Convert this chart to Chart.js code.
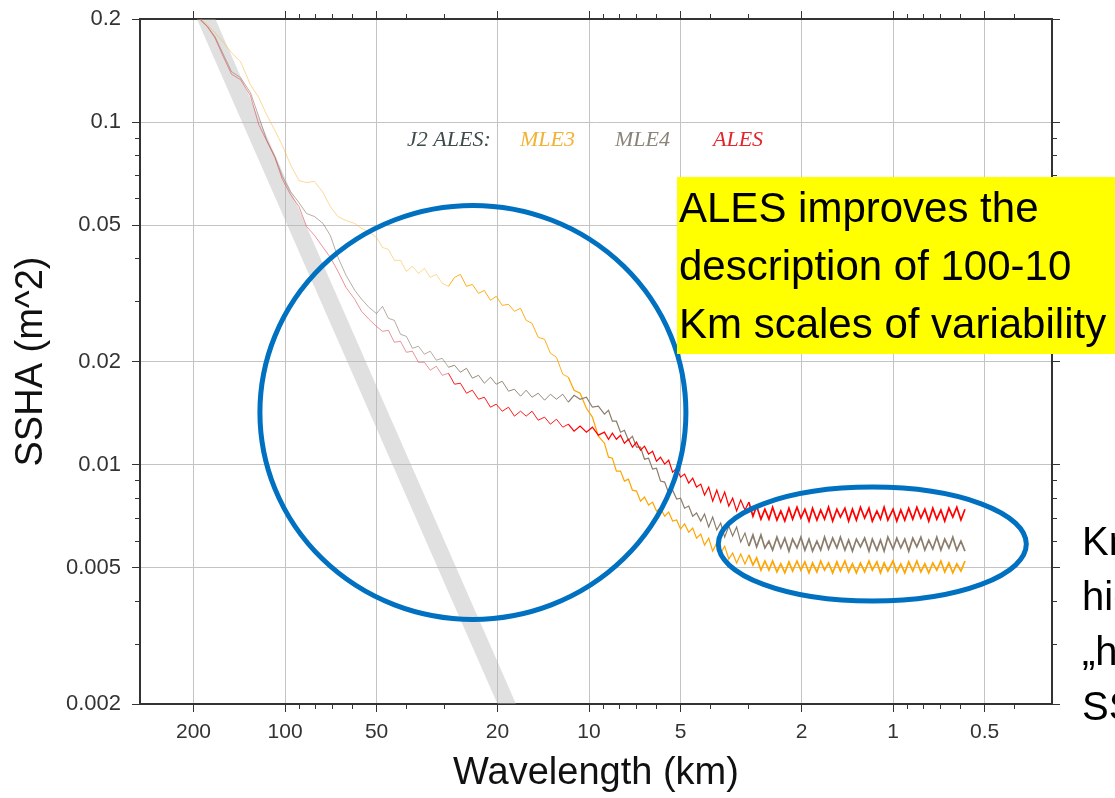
<!DOCTYPE html>
<html>
<head>
<meta charset="utf-8">
<title>J2 ALES SSHA spectra</title>
<script src="https://cdn.jsdelivr.net/npm/chart.js@4.4.1/dist/chart.umd.min.js"></script>
<style>
  html, body { margin: 0; padding: 0; background: #fff; overflow: hidden; }
  #wrap { width: 1115px; height: 798px; }
</style>
</head>
<body>
<div id="wrap"><canvas id="spectrum" width="1115" height="798"></canvas></div>
<script>
// wavelength (km), shared by the three spectra
const wavelength = [
  200, 190, 180, 170, 160, 150, 140, 130, 122, 115, 108, 102, 96, 90, 85, 80, 75, 71, 67, 63, 59, 56, 53, 50,
  47.8, 45.7, 43.7, 41.7, 39.9, 38.1, 36.4, 34.8, 33.3, 31.8, 30.4, 29.0, 27.7, 26.5, 25.3, 24.2, 23.1, 22.1, 21.1,
  20.2, 19.3, 18.4, 17.6, 16.8, 16.1, 15.4, 14.7, 14.0, 13.4, 12.8, 12.2, 11.7, 11.2, 10.7, 10.2, 9.75, 9.32, 8.90,
  8.63, 8.38, 8.13, 7.88, 7.65, 7.42, 7.20, 6.98, 6.77, 6.57, 6.37, 6.18, 6.00, 5.82, 5.64, 5.47, 5.31, 5.15, 5.00, 4.85,
  4.70, 4.56, 4.43, 4.29, 4.17, 4.04, 3.92, 3.80, 3.69, 3.58, 3.47, 3.37, 3.27, 3.17, 3.07, 2.98, 2.89, 2.81, 2.72, 2.64,
  2.56, 2.49, 2.41, 2.34, 2.27, 2.20, 2.14, 2.07, 2.01, 1.95, 1.89, 1.84, 1.78, 1.73, 1.68, 1.63, 1.58, 1.53, 1.49, 1.44,
  1.40, 1.36, 1.32, 1.28, 1.24, 1.20, 1.17, 1.13, 1.10, 1.07, 1.04, 1.00, 0.972, 0.943, 0.915, 0.888, 0.861, 0.835, 0.810, 0.786,
  0.763, 0.740, 0.718, 0.696, 0.676, 0.655, 0.636, 0.617, 0.598, 0.580
];

// SSHA spectra (m^2)
const mle3 = [
  0.216, 0.200, 0.1924, 0.1823, 0.1717, 0.1594, 0.150, 0.1286, 0.1179, 0.1052, 0.0945, 0.0854, 0.0752, 0.0675, 0.0666, 0.0671,
  0.0623, 0.0567, 0.0530, 0.0516, 0.0506, 0.0489, 0.0479, 0.0460,
  0.04305, 0.04248, 0.03948, 0.03948, 0.03665, 0.03791, 0.03616, 0.03740, 0.03520, 0.03592,
  0.03381, 0.03314, 0.03520, 0.03592, 0.03314, 0.03359, 0.03162, 0.03226, 0.03018, 0.03100,
  0.02917, 0.02937, 0.02803, 0.02860, 0.02638, 0.02585, 0.02353, 0.02322, 0.02114, 0.02058,
  0.01835, 0.01800, 0.01649, 0.01616, 0.01461, 0.01376, 0.01211, 0.01155,
  0.01051, 0.01044, 0.00957, 0.00957, 0.00895, 0.00907, 0.00842, 0.00837, 0.00782, 0.00804,
  0.00762, 0.00777, 0.00732, 0.00746, 0.00707, 0.00727, 0.00684, 0.00689, 0.00648, 0.00671,
  0.00635, 0.00653, 0.00610, 0.00627, 0.00582, 0.00610, 0.00559, 0.00590, 0.00552, 0.00578,
  0.00530, 0.00552, 0.00516, 0.00548, 0.00513, 0.00545, 0.00509, 0.00534, 0.00492, 0.00523,
  0.00492, 0.00523, 0.00486, 0.00513, 0.00483, 0.00520, 0.00489, 0.00523, 0.00492, 0.00520,
  0.00483, 0.00516, 0.00486, 0.00523, 0.00492, 0.00516, 0.00483, 0.00520, 0.00489, 0.00523,
  0.00486, 0.00513, 0.00483, 0.00516, 0.00486, 0.00523, 0.00492, 0.00520, 0.00483, 0.00516,
  0.00489, 0.00523, 0.00486, 0.00513, 0.00483, 0.00520, 0.00489, 0.00523, 0.00486, 0.00513,
  0.00483, 0.00516, 0.00492, 0.00523, 0.00486, 0.00516, 0.00483, 0.00513, 0.00489, 0.00523
];
const mle4 = [
  0.216, 0.199, 0.190, 0.1776, 0.1584, 0.1404, 0.1348, 0.1219, 0.1038, 0.0889, 0.0793, 0.0694, 0.0627, 0.0582, 0.0541, 0.0530,
  0.0506, 0.0467, 0.0403, 0.0357, 0.0323, 0.0304, 0.0288, 0.0276,
  0.02898, 0.02674, 0.02638, 0.02401, 0.02369, 0.02186, 0.02216, 0.02100, 0.02143, 0.02017,
  0.02044, 0.01924, 0.01950, 0.01861, 0.01911, 0.01788, 0.01823, 0.01728, 0.01800, 0.01717,
  0.01751, 0.01638, 0.01660, 0.01584, 0.01649, 0.01573, 0.01616, 0.01542, 0.01605, 0.01552,
  0.01605, 0.01521, 0.01594, 0.01552, 0.01573, 0.01471, 0.01481, 0.01404,
  0.01441, 0.01339, 0.01339, 0.01243, 0.01260, 0.01178, 0.01210, 0.01124, 0.01124, 0.01037,
  0.01044, 0.00970, 0.00976, 0.00895, 0.00889, 0.00826, 0.00842, 0.00793, 0.00798, 0.00746,
  0.00757, 0.00707, 0.00722, 0.00684, 0.00717, 0.00657, 0.00703, 0.00644, 0.00675, 0.00614,
  0.00662, 0.00619, 0.00657, 0.00594, 0.00631, 0.00578, 0.00623, 0.00575, 0.00623, 0.00571,
  0.00598, 0.00563, 0.00614, 0.00571, 0.00610, 0.00559, 0.00606, 0.00571, 0.00614, 0.00563,
  0.00606, 0.00559, 0.00598, 0.00563, 0.00614, 0.00567, 0.00610, 0.00571, 0.00614, 0.00563,
  0.00602, 0.00559, 0.00606, 0.00575, 0.00610, 0.00559, 0.00606, 0.00563, 0.00602, 0.00559,
  0.00614, 0.00567, 0.00610, 0.00571, 0.00606, 0.00559, 0.00610, 0.00575, 0.00614, 0.00563,
  0.00602, 0.00567, 0.00614, 0.00563, 0.00606, 0.00571, 0.00614, 0.00563, 0.00598, 0.00559
];
const ales = [
  0.216, 0.199, 0.190, 0.176, 0.156, 0.138, 0.133, 0.1195, 0.0983, 0.0883, 0.0788, 0.0680, 0.0615, 0.0567, 0.0496, 0.0467,
  0.0431, 0.0403, 0.0367, 0.0329, 0.0304, 0.0280, 0.0266, 0.0253,
  0.02450, 0.02466, 0.02276, 0.02291, 0.02128, 0.02143, 0.01990, 0.01990, 0.01886, 0.01937,
  0.01823, 0.01848, 0.01717, 0.01728, 0.01616, 0.01649, 0.01552, 0.01573, 0.01471, 0.01501,
  0.01432, 0.01471, 0.01385, 0.01432, 0.01385, 0.01432, 0.01348, 0.01376, 0.01312, 0.01357,
  0.01286, 0.01312, 0.01252, 0.01295, 0.01244, 0.01286, 0.01219, 0.01244,
  0.01186, 0.01235, 0.01186, 0.01218, 0.01155, 0.01186, 0.01124, 0.01163, 0.01102, 0.01132,
  0.01073, 0.01094, 0.01023, 0.01051, 0.01003, 0.01030, 0.00951, 0.00976, 0.00919, 0.00938,
  0.00883, 0.00913, 0.00860, 0.00877, 0.00815, 0.00860, 0.00782, 0.00842, 0.00777, 0.00831,
  0.00757, 0.00798, 0.00732, 0.00788, 0.00737, 0.00777, 0.00707, 0.00757, 0.00693, 0.00741,
  0.00693, 0.00751, 0.00689, 0.00732, 0.00684, 0.00746, 0.00693, 0.00751, 0.00698, 0.00741,
  0.00684, 0.00746, 0.00689, 0.00737, 0.00693, 0.00751, 0.00684, 0.00741, 0.00703, 0.00746,
  0.00684, 0.00741, 0.00689, 0.00751, 0.00698, 0.00746, 0.00684, 0.00732, 0.00693, 0.00751,
  0.00689, 0.00741, 0.00684, 0.00737, 0.00689, 0.00746, 0.00693, 0.00751, 0.00698, 0.00741,
  0.00684, 0.00746, 0.00693, 0.00737, 0.00684, 0.00746, 0.00703, 0.00751, 0.00689, 0.00741
];

// grey reference slope band
const slopeX = [203, 16.7];
const slopeY = [0.25, 0.0016];

// labelled ticks
const xTicks = [200, 100, 50, 20, 10, 5, 2, 1, 0.5];
const yTicks = [0.2, 0.1, 0.05, 0.02, 0.01, 0.005, 0.002];

const legendLabels = ['J2 ALES:', 'MLE3', 'MLE4', 'ALES'];
const noteLines = ['ALES improves the', 'description of 100-10', 'Km scales of variability'];
const sideLines = ['Km scales:', 'higher noise', '\u201Ehump\u201C', 'SSHA'];

const FONT = '"Liberation Sans", Arial, Helvetica, sans-serif';
Chart.defaults.font.family = FONT;

function isListed(v, list) {
  return list.some(t => Math.abs(v - t) < t * 1e-6);
}
// keep 1..9 x 10^n ticks only (drop the 1.5 steps chart.js adds)
function keepDecadeSteps(scale) {
  scale.ticks = scale.ticks.filter(t => {
    const m = t.value / Math.pow(10, Math.floor(Math.log10(t.value) + 1e-9));
    return Math.abs(m - Math.round(m)) < 1e-6;
  });
}

function logAxis(position, list, min, max, size, showLabels, extra) {
  const horiz = position === 'top' || position === 'bottom';
  return Object.assign({
    type: 'logarithmic',
    position: position,
    min: min,
    max: max,
    afterBuildTicks: keepDecadeSteps,
    afterFit: s => {
      if (horiz) { s.height = size; s.paddingLeft = 0; s.paddingRight = 0; }
      else { s.width = size; s.paddingTop = 0; s.paddingBottom = 0; }
    },
    ticks: {
      display: showLabels,
      autoSkip: false,
      maxRotation: 0,
      color: '#333',
      font: { size: horiz ? 21 : 22 },
      padding: horiz ? 8 : 11,
      callback: v => isListed(v, list) ? String(v) : ''
    },
    grid: {
      drawOnChartArea: showLabels,
      tickLength: 8,
      lineWidth: 1,
      color: c => (c.tick && isListed(c.tick.value, list)) ? '#c4c4c4' : 'rgba(0,0,0,0)',
      tickColor: c => (c.tick && isListed(c.tick.value, list)) ? '#333' : 'rgba(0,0,0,0)'
    },
    border: { display: true, color: '#333', width: 2 }
  }, extra || {});
}

// short minor ticks on all four sides
const minorTicks = {
  id: 'minorTicks',
  afterDraw(chart) {
    const { ctx, chartArea: a, scales } = chart;
    ctx.save();
    ctx.strokeStyle = '#333';
    ctx.lineWidth = 1;
    const sides = [
      ['x', xTicks, 'bottom'], ['x2', xTicks, 'top'],
      ['y', yTicks, 'left'], ['y2', yTicks, 'right']
    ];
    sides.forEach(([id, list, side]) => {
      const s = scales[id];
      s.ticks.forEach(t => {
        if (isListed(t.value, list) || t.value <= s.min * 1.0001 || t.value >= s.max * 0.9999) return;
        const p = Math.round(s.getPixelForValue(t.value)) + 0.5;
        ctx.beginPath();
        if (side === 'bottom') { ctx.moveTo(p, a.bottom); ctx.lineTo(p, a.bottom + 5); }
        if (side === 'top') { ctx.moveTo(p, a.top); ctx.lineTo(p, a.top - 5); }
        if (side === 'left') { ctx.moveTo(a.left, p); ctx.lineTo(a.left - 5, p); }
        if (side === 'right') { ctx.moveTo(a.right, p); ctx.lineTo(a.right + 5, p); }
        ctx.stroke();
      });
    });
    ctx.restore();
  }
};

// legend line, blue circles and the slide notes
const notes = {
  id: 'notes',
  afterDraw(chart) {
    const { ctx, chartArea: a, scales: { x, y } } = chart;
    ctx.save();

    const legendColors = ['#3d4b4b', '#f2b233', '#8a847a', '#e3242b'];
    const legendOffsets = [267, 380, 475, 573];
    ctx.font = 'italic 22px "Liberation Serif", "Times New Roman", serif';
    ctx.textBaseline = 'alphabetic';
    legendLabels.forEach((t, i) => {
      ctx.fillStyle = legendColors[i];
      ctx.fillText(t, a.left + legendOffsets[i], a.top + 127);
    });

    ctx.strokeStyle = '#0070c0';
    ctx.lineWidth = 5;
    ctx.beginPath();
    ctx.ellipse(x.getPixelForValue(24.1), y.getPixelForValue(0.0142), 213, 207, 0, 0, Math.PI * 2);
    ctx.stroke();
    ctx.beginPath();
    ctx.ellipse(x.getPixelForValue(1.17), y.getPixelForValue(0.00586), 154, 57, 0, 0, Math.PI * 2);
    ctx.stroke();

    ctx.fillStyle = '#ffff00';
    ctx.fillRect(677, 177, chart.width - 677, 177);
    ctx.fillStyle = '#000';
    ctx.font = '42px ' + FONT;
    noteLines.forEach((t, i) => ctx.fillText(t, 679, 222 + i * 58));

    ctx.font = '40px ' + FONT;
    sideLines.forEach((t, i) => ctx.fillText(t, 1082, 555 + i * 55));
    ctx.restore();
  }
};

const toPoints = vals => wavelength.map((w, i) => ({ x: w, y: vals[i] }));
// long wavelengths: thin pale lines; short wavelengths: dense noisy band
const line = (label, vals, color, pale, order) => ({
  label: label,
  data: toPoints(vals),
  borderColor: color,
  borderWidth: 1,
  pointRadius: 0,
  tension: 0,
  order: order,
  segment: {
    borderColor: c => c.p0.parsed.x > 30 ? pale : color,
    borderWidth: c => c.p0.parsed.x < 3 ? 1.7 : (c.p0.parsed.x < 12 ? 1.2 : 0.9)
  }
});

new Chart(document.getElementById('spectrum'), {
  type: 'line',
  data: {
    datasets: [
      line('ALES', ales, '#ff0000', 'rgba(225,70,80,0.65)', 1),
      line('MLE4', mle4, '#8b7d6b', 'rgba(139,125,107,0.7)', 2),
      line('MLE3', mle3, '#ffa500', 'rgba(250,175,40,0.55)', 3),
      {
        label: 'slope',
        data: slopeX.map((w, i) => ({ x: w, y: slopeY[i] })),
        borderColor: 'rgba(180,180,180,0.42)',
        borderWidth: 17,
        borderCapStyle: 'butt',
        pointRadius: 0,
        clip: 0,
        order: 4
      }
    ]
  },
  options: {
    responsive: false,
    animation: false,
    devicePixelRatio: 1,
    layout: { padding: 0 },
    plugins: { legend: { display: false }, tooltip: { enabled: false } },
    scales: {
      x: logAxis('bottom', xTicks, 0.3, 300, 94, true, {
        reverse: true,
        title: { display: true, text: 'Wavelength (km)', color: '#111', font: { size: 38 }, padding: { top: 0, bottom: 2 } }
      }),
      x2: logAxis('top', xTicks, 0.3, 300, 19, false, { reverse: true }),
      y: logAxis('left', yTicks, 0.002, 0.2, 140, true, {
        title: { display: true, text: 'SSHA (m^2)', color: '#111', font: { size: 38 }, padding: { top: 9, bottom: 0 } }
      }),
      y2: logAxis('right', yTicks, 0.002, 0.2, 63, false)
    }
  },
  plugins: [minorTicks, notes]
});
</script>
</body>
</html>
